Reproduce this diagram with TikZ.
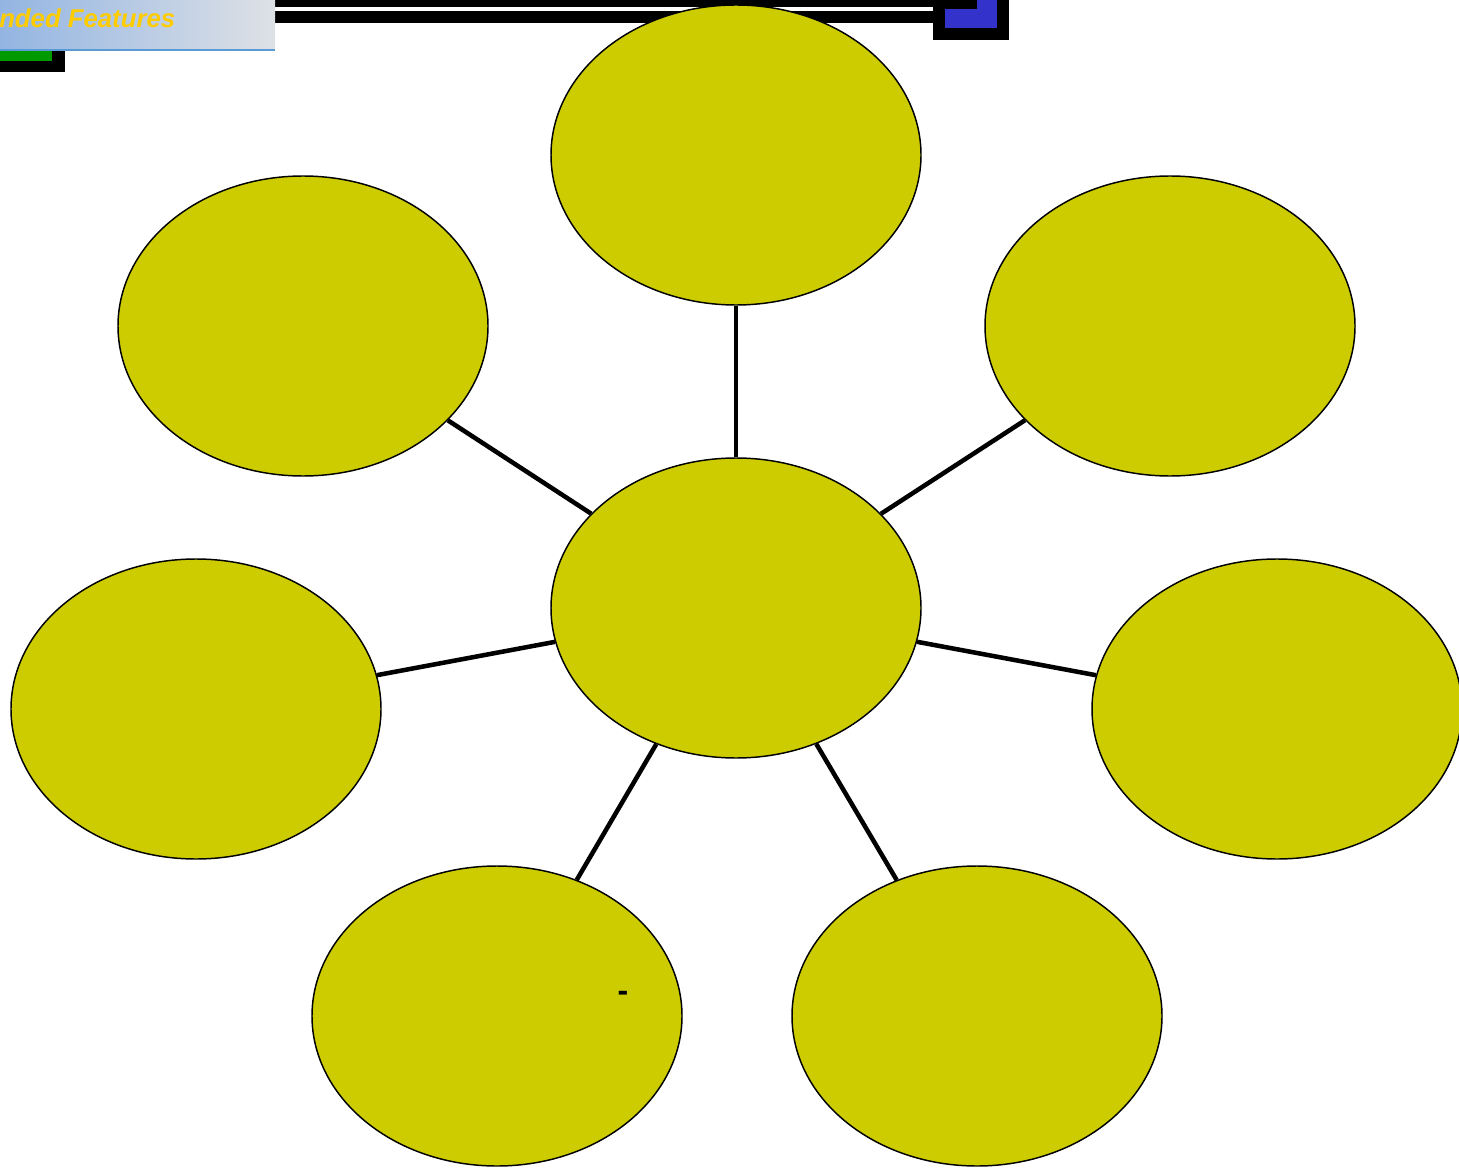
\documentclass[tikz,border=0pt]{standalone}
\usepackage{fontspec}
\setmainfont{Liberation Sans}
\usetikzlibrary{shapes.geometric,backgrounds}
\definecolor{bubbleFill}{HTML}{CCCC00}
\definecolor{bannerLeft}{HTML}{93B5E2}
\definecolor{bannerRight}{HTML}{DEE1E6}
\definecolor{bannerLine}{HTML}{5B9BD5}
\definecolor{titleGold}{HTML}{FFCC00}
\definecolor{markBlue}{HTML}{3333CC}
\definecolor{markGreen}{HTML}{009900}
\newcommand{\TitleFont}{\fontsize{19.3}{21}\selectfont\bfseries\itshape}
\newcommand{\DashFont}{\fontsize{24}{26}\selectfont\bfseries}
\tikzset{
  bubble/.style={ellipse, draw=black, line width=1.1pt, fill=bubbleFill,
    minimum width=277.5pt, minimum height=225pt, inner sep=0pt},
  spoke/.style={draw=black, line width=3.4pt},
}

\begin{document}
\begin{tikzpicture}[x=0.75pt,y=-0.75pt]
  \useasboundingbox (0,0) rectangle (1459,1169);
  \clip (0,0) rectangle (1459,1169);

  % slide header
  \fill[black] (275,0) rectangle (933,23);
  \fill[white] (275,7) rectangle (933,11);
  \fill[black] (933,0) rectangle (1009,40);
  \fill[markBlue] (945,0) rectangle (997,28);
  \fill[black] (933,0) rectangle (977,9);
  \fill[black] (0,50) rectangle (65,72);
  \fill[markGreen] (0,50) rectangle (52,61);
  \shade[left color=bannerLeft,right color=bannerRight] (0,0) rectangle (275,50);
  \draw[bannerLine,line width=1.5pt] (0,50) -- (275,50);
  \node[anchor=base west,inner sep=0pt,font=\TitleFont,titleGold] (title) at (-1,28) {nded Features};

  % bubbles
  \node[bubble] (hub) at (736,608) {};
  \node[bubble] (top) at (736,155) {};
  \node[bubble] (upleft) at (303,326) {};
  \node[bubble] (upright) at (1170,326) {};
  \node[bubble] (left) at (196,709) {};
  \node[bubble] (right) at (1277,709) {};
  \node[bubble] (lowleft) at (497,1016) {};
  \node[bubble] (lowright) at (977,1016) {};
  \node[font=\DashFont,inner sep=0pt] (dash) at (623,996) {-};

  % spokes
  \foreach \n in {top,upleft,upright,left,right,lowleft,lowright}
    \draw[spoke] (hub) -- (\n);
\end{tikzpicture}
\end{document}
